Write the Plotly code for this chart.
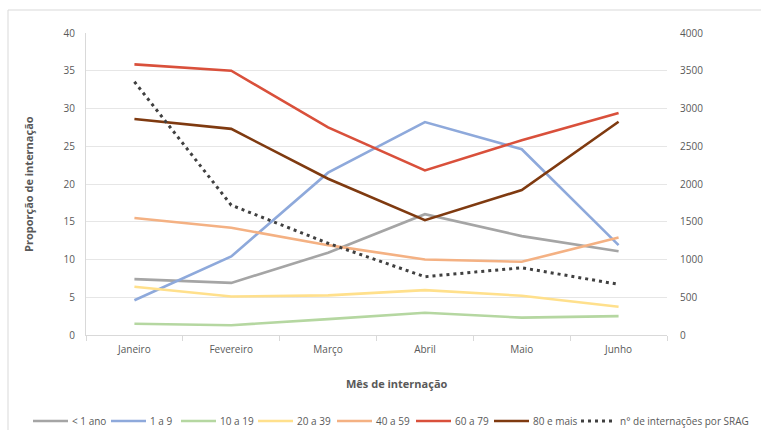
import plotly.graph_objects as go

# Months of hospitalisation
meses = ["Janeiro", "Fevereiro", "Março", "Abril", "Maio", "Junho"]

# Share of hospitalisations (%) by age group
menor_1 = [7.4, 6.9, 10.9, 16.0, 13.1, 11.1]
de_1_a_9 = [4.6, 10.4, 21.5, 28.2, 24.6, 11.9]
de_10_a_19 = [1.5, 1.3, 2.1, 2.95, 2.3, 2.5]
de_20_a_39 = [6.4, 5.1, 5.25, 5.95, 5.2, 3.75]
de_40_a_59 = [15.5, 14.2, 11.9, 10.0, 9.7, 12.9]
de_60_a_79 = [35.85, 35.0, 27.5, 21.8, 25.8, 29.4]
de_80_mais = [28.6, 27.3, 20.7, 15.2, 19.2, 28.25]

# Number of SRAG hospitalisations (right axis)
internacoes_srag = [3355, 1720, 1215, 772, 891, 671]

series = [
    ("< 1 ano", menor_1, "#A5A5A5"),
    ("1 a 9", de_1_a_9, "#8EA9DB"),
    ("10 a 19", de_10_a_19, "#B5D7A1"),
    ("20 a 39", de_20_a_39, "#FFE08C"),
    ("40 a 59", de_40_a_59, "#F4B183"),
    ("60 a 79", de_60_a_79, "#D9503B"),
    ("80 e mais", de_80_mais, "#7F3A10"),
]
srag_nome = "n° de internações por SRAG"
srag_cor = "#404040"
srag_dash = "3px,4px"

FONT = "Open Sans, Liberation Sans, sans-serif"
TXT = "#595959"

fig = go.Figure()
for nome, valores, cor in series:
    fig.add_trace(go.Scatter(
        x=meses, y=valores, name=nome, mode="lines",
        line=dict(color=cor, width=2.6), showlegend=False,
    ))

fig.add_trace(go.Scatter(
    x=meses, y=internacoes_srag, name=srag_nome,
    mode="lines", yaxis="y2", showlegend=False,
    line=dict(color=srag_cor, width=3, dash=srag_dash),
))

W, H = 761, 430
L, R, T, B = 86, 94, 33, 95
pw, ph = W - L - R, H - T - B


def px_x(p):
    return (p - L) / pw


def px_y(p):
    return (H - B - p) / ph


# Single-row legend along the bottom of the chart
legend_items = [(n, c, "solid") for n, _, c in series] + [(srag_nome, srag_cor, srag_dash)]
legend_x = [33, 111, 181, 258, 337, 416, 494, 581]
legend_y = 421
shapes = [
    dict(type="rect", xref="paper", yref="paper",
         x0=px_x(8), x1=px_x(765), y0=px_y(440), y1=px_y(10),
         line=dict(color="#D9D9D9", width=1), layer="below"),
]
annotations = [
    dict(text="<b>Mês de internação</b>", xref="paper", yref="paper",
         x=px_x(397), y=px_y(383), xanchor="center", yanchor="middle",
         showarrow=False, font=dict(size=11, color=TXT)),
    dict(text="<b>Proporção de internação</b>", xref="paper", yref="paper",
         x=px_x(28), y=px_y(184), xanchor="center", yanchor="middle",
         showarrow=False, textangle=-90, font=dict(size=11, color=TXT)),
]
for (nome, cor, dash), x0 in zip(legend_items, legend_x):
    shapes.append(dict(
        type="line", xref="paper", yref="paper",
        x0=px_x(x0), x1=px_x(x0 + 35), y0=px_y(legend_y), y1=px_y(legend_y),
        line=dict(color=cor, width=3 if dash != "solid" else 2.6, dash=dash),
    ))
    annotations.append(dict(
        text=nome, xref="paper", yref="paper",
        x=px_x(x0 + 37), y=px_y(legend_y), xanchor="left", yanchor="middle",
        showarrow=False, font=dict(size=10, color=TXT),
    ))

fig.update_layout(
    width=W, height=H,
    margin=dict(l=L, r=R, t=T, b=B, autoexpand=False),
    paper_bgcolor="white", plot_bgcolor="white",
    font=dict(family=FONT, size=11, color=TXT),
    showlegend=False,
    xaxis=dict(
        type="category", showgrid=False,
        showline=True, linecolor="#D9D9D9", linewidth=1,
        ticks="outside", tickson="boundaries", ticklen=5,
        tickcolor="#D9D9D9",
        tickfont=dict(size=10, color=TXT),
        ticklabelstandoff=5,
        range=[-0.5, 5.5],
    ),
    yaxis=dict(
        range=[0, 40], dtick=5,
        showgrid=True, gridcolor="#E6E6E6", gridwidth=1,
        showline=True, linecolor="#D9D9D9", linewidth=1,
        zeroline=False, ticks="",
        tickfont=dict(size=10, color=TXT),
        ticklabelstandoff=8,
    ),
    yaxis2=dict(
        range=[0, 4000], dtick=500, overlaying="y", side="right",
        showgrid=False, zeroline=False, showline=False,
        tickfont=dict(size=10, color=TXT),
        ticklabelstandoff=12,
    ),
    annotations=annotations,
    shapes=shapes,
)

fig.write_html("out.html")
